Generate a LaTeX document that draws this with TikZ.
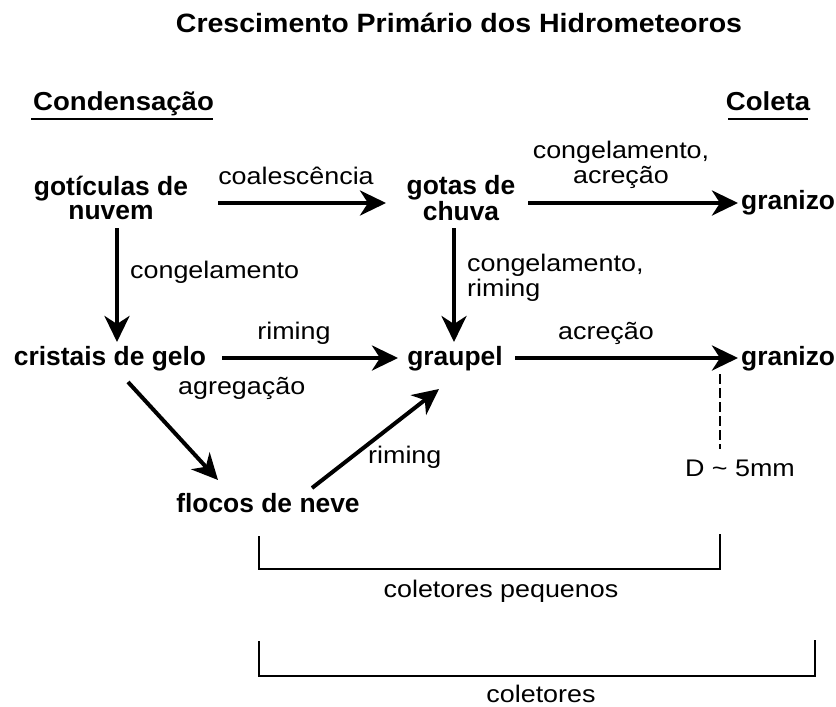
\documentclass[tikz,border=0pt]{standalone}
\usepackage{fontspec}
\setmainfont{Liberation Sans}
\newfontfamily\lblf[FakeStretch=1.12]{Liberation Sans}
\newfontfamily\hdrf[FakeStretch=1.06]{Liberation Sans}
\newfontfamily\ttlf[FakeStretch=1.077]{Liberation Sans}
\usetikzlibrary{arrows.meta}
\begin{document}
\begin{tikzpicture}[x=1pt,y=-1pt,
  bnode/.style={font=\fontsize{26.4}{24}\selectfont\bfseries, align=center, inner sep=0pt},
  lbl/.style={font=\lblf\fontsize{24}{25}\selectfont, align=left, inner sep=0pt},
  hdr/.style={font=\hdrf\fontsize{26}{26}\selectfont\bfseries, inner sep=0pt},
  arr/.style={line width=4pt, -{Stealth[length=26pt,width=25pt,inset=8pt]}},
  brk/.style={line width=1.3pt},
]
\useasboundingbox (0,0) rectangle (836,707);
\node[font=\ttlf\fontsize{26.5}{28}\selectfont\bfseries, inner sep=0pt, anchor=base] (title) at (459,32) {Crescimento Primário dos Hidrometeoros};
\node[hdr, anchor=base west] (cond) at (33,110) {Condensação};
\node[hdr, anchor=base] (col) at (768,110) {Coleta};
\draw[line width=1.6pt] (31,119) -- (213,119);
\draw[line width=1.6pt] (728,119) -- (808,119);

\node[bnode] (gn) at (111,198) {gotículas de\\nuvem};
\node[bnode] (gc) at (461,198) {gotas de\\chuva};
\node[bnode, anchor=west] (gr1) at (741,203) {granizo};
\node[bnode] (cg) at (110,359) {cristais de gelo};
\node[bnode] (gp) at (455,359) {graupel};
\node[bnode, anchor=west] (gr2) at (741,359) {granizo};
\node[bnode] (fn) at (268,503) {flocos de neve};

\coordinate (a1s) at (218,203); \coordinate (a1e) at (386,203);
\coordinate (a2s) at (528,203); \coordinate (a2e) at (738,203);
\coordinate (a3s) at (117,228); \coordinate (a3e) at (117,342);
\coordinate (a4s) at (454,228); \coordinate (a4e) at (454,342);
\coordinate (a5s) at (222,358); \coordinate (a5e) at (398,358);
\coordinate (a6s) at (515,358); \coordinate (a6e) at (738,358);
\coordinate (a7s) at (128,382); \coordinate (a7e) at (218,480);
\coordinate (a8s) at (312,488); \coordinate (a8e) at (439,389);

\draw[arr] (a1s) -- (a1e);
\draw[arr] (a2s) -- (a2e);
\draw[arr] (a3s) -- (a3e);
\draw[arr] (a4s) -- (a4e);
\draw[arr] (a5s) -- (a5e);
\draw[arr] (a6s) -- (a6e);
\draw[arr] (a7s) -- (a7e);
\draw[arr] (a8s) -- (a8e);

\node[lbl, anchor=base] (l1) at (296,184) {coalescência};
\node[lbl, align=center] (l2) at (621,165) {congelamento,\\acreção};
\node[lbl, anchor=west] (l3) at (130,272) {congelamento};
\node[lbl, anchor=west] (l4) at (467,278) {congelamento,\\riming};
\node[lbl] (l5) at (294,333) {riming};
\node[lbl] (l6) at (606,333) {acreção};
\node[lbl, anchor=west] (l7) at (178,388) {agregação};
\node[lbl, anchor=west] (l8) at (368,457) {riming};

\coordinate (d1) at (720,374); \coordinate (d2) at (720,449);
\draw[line width=2pt, dash pattern=on 10pt off 4pt] (d1) -- (d2);
\node[lbl, anchor=base] (dlab) at (740,476) {D \textasciitilde{} 5mm};

\coordinate (b1a) at (259,536); \coordinate (b1b) at (259,569);
\coordinate (b1c) at (720,569); \coordinate (b1d) at (720,534);
\draw[brk] (b1a) -- (b1b) -- (b1c) -- (b1d);
\node[lbl, anchor=base] (bl1) at (501,597) {coletores pequenos};

\coordinate (b2a) at (259,641); \coordinate (b2b) at (259,676);
\coordinate (b2c) at (815,676); \coordinate (b2d) at (815,640);
\draw[brk] (b2a) -- (b2b) -- (b2c) -- (b2d);
\node[lbl, anchor=base] (bl2) at (541,702) {coletores};
\end{tikzpicture}
\end{document}
